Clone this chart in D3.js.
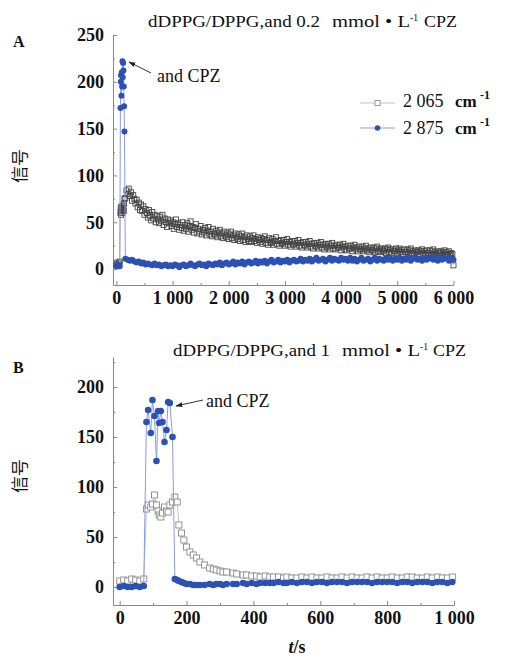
<!DOCTYPE html>
<html>
<head>
<meta charset="utf-8">
<script src="https://cdn.jsdelivr.net/npm/d3@7"></script>
<style>
  body { margin: 0; background: #fff; }
  svg { display: block; }
  text { font-family: "Liberation Serif", "Times New Roman", serif; fill: #111; }
</style>
</head>
<body>
<svg id="chart" width="505" height="658"></svg>
<script>
// ---- Panel A: 0.2 mmol/L CPZ (t up to 6000 s) ----
// early samples (pre-injection + spike), shared by both bands
const earlyTimesA = [0, 15, 30, 45, 60, 72, 78, 84, 90, 96, 102, 108, 114, 120, 126, 132, 138, 144];
const earlyGrayA = [5, 7, 4, 6, 8, 60, 66, 58, 64, 62, 67, 60, 65, 63, 68, 62, 70, 75];
const earlyBlueA = [3, 4, 3, 4, 3, 172, 200, 207, 185, 210, 195, 222, 205, 220, 212, 195, 174, 147];

// 2065 band after the spike, every 20 s from 160 s
const tailStartA = 160, grayStepA = 20, blueStepA = 40;
const tailGrayA = [
  76, 84, 80, 86, 78, 82, 73, 79, 75, 70,
  74, 66, 71, 63, 69, 62, 67, 58, 64, 60,
  55, 63, 57, 52, 61, 54, 58, 50, 57, 53,
  49, 56, 51, 58, 47, 54, 50, 45, 53, 49,
  52, 46, 50, 43, 48, 53, 45, 49, 42, 47,
  44, 50, 41, 47, 43, 49, 40, 46, 51, 42,
  45, 39, 44, 48, 38, 43, 40, 46, 37, 42,
  39, 44, 36, 41, 45, 37, 40, 35, 43, 38,
  36, 41, 34, 39, 42, 35, 38, 33, 40, 36,
  34, 39, 32, 37, 40, 33, 36, 31, 38, 34,
  32, 37, 30, 35, 38, 31, 34, 29, 36, 32,
  30, 35, 29, 33, 36, 30, 32, 28, 34, 31,
  29, 33, 27, 32, 35, 28, 31, 26, 33, 29,
  28, 32, 26, 30, 34, 27, 30, 25, 31, 28,
  27, 31, 25, 29, 32, 26, 29, 24, 30, 27,
  26, 30, 24, 28, 31, 25, 28, 23, 29, 26,
  25, 29, 23, 27, 30, 24, 27, 22, 28, 25,
  24, 28, 22, 26, 29, 23, 26, 21, 27, 24,
  23, 27, 21, 25, 28, 22, 25, 21, 26, 23,
  23, 26, 20, 24, 27, 21, 24, 20, 25, 22,
  22, 25, 19, 23, 26, 21, 23, 19, 24, 21,
  21, 24, 19, 22, 25, 20, 22, 18, 23, 20,
  20, 23, 18, 22, 24, 19, 21, 18, 22, 20,
  19, 22, 17, 21, 23, 18, 21, 17, 21, 19,
  19, 22, 17, 20, 22, 18, 20, 16, 21, 18,
  18, 21, 16, 20, 22, 17, 19, 16, 20, 18,
  18, 20, 16, 19, 21, 17, 19, 15, 20, 17,
  17, 20, 15, 19, 21, 16, 18, 15, 19, 17,
  17, 19, 15, 18, 20, 16, 18, 15, 19, 16,
  17, 16, 4
];
// 2875 band after the spike, every 40 s from 160 s
const tailBlueA = [
  11, 10, 9, 10, 8, 7, 8, 6, 7, 5, 6, 5, 4, 6, 4, 5, 3, 4, 5, 3, 4,
  3, 5, 4, 2, 4, 5, 3, 4, 6, 4, 3, 5, 6, 4, 5, 3, 6, 5, 4, 6,
  5, 7, 4, 6, 7, 5, 6, 8, 5, 7, 6, 8, 5, 7, 8, 6, 7, 9, 6, 8,
  7, 9, 6, 8, 10, 7, 8, 10, 7, 9, 8, 10, 7, 9, 10, 8, 9, 11, 8, 10,
  9, 11, 8, 10, 12, 9, 10, 11, 8, 10, 12, 9, 11, 10, 9, 12, 10, 11, 9, 12,
  9, 11, 8, 10, 12, 9, 10, 11, 8, 10, 12, 9, 11, 10, 9, 12, 10, 11, 9, 11,
  10, 12, 9, 11, 10, 12, 9, 11, 13, 10, 11, 9, 12, 10, 11, 13, 10, 12, 9, 11, 10, 12, 11, 9, 12, 10
];

// ---- Panel B: 1 mmol/L CPZ (t up to 1000 s) ----
const timesB = [
  0, 12, 24, 36, 48, 60, 72,
  80, 85, 93, 98, 104, 110, 115, 118, 123, 128, 134, 140, 145, 150, 158,
  165, 172, 177, 185, 192, 200, 210, 220, 230, 240, 254, 269, 280, 289, 300, 309, 320, 339,
  350, 369, 380, 395, 409, 420, 435, 449, 460, 475, 490, 500, 515, 530, 545, 560, 575, 590,
  605, 620, 635, 650, 665, 680, 695, 710, 725, 740, 755, 770, 785, 800, 815, 830, 845, 860,
  875, 890, 905, 920, 935, 950, 965, 980, 995
];
const grayB = [
  6, 7, 6, 8, 7, 6, 8,
  78, 82, 80, 83, 92, 82, 76, 72, 70, 74, 80, 76, 75, 82, 85,
  90, 85, 62, 54, 47, 40, 35, 32, 29, 25, 22, 19, 18, 17, 16, 15, 15, 14,
  13, 12, 12, 11, 11, 10, 11, 10, 10, 10, 9, 10, 9, 9, 10, 9, 10, 9,
  9, 10, 9, 9, 10, 9, 10, 9, 9, 10, 9, 10, 9, 9, 10, 9, 9, 10,
  10, 9, 9, 10, 9, 10, 9, 9, 10
];
const blueB = [
  0, 1, 0, 0, 1, 0, 1,
  165, 177, 154, 187, 171, 126, 176, 164, 176, 165, 145, 157, 185, 184, 150,
  8, 7, 6, 5, 4, 3, 3, 2, 2, 2, 2, 3, 2, 3, 3, 2, 3, 3,
  3, 4, 3, 4, 3, 4, 4, 4, 4, 5, 4, 4, 5, 4, 5, 5, 4, 5,
  5, 4, 5, 5, 5, 4, 5, 5, 5, 5, 4, 5, 5, 5, 5, 4, 5, 5,
  4, 5, 5, 5, 4, 5, 5, 4, 5
];

const ticksA = [0, 1000, 2000, 3000, 4000, 5000, 6000];
const ticksB = [0, 200, 400, 600, 800, 1000];
const yTicksA = [0, 50, 100, 150, 200, 250];
const yTicksB = [0, 50, 100, 150, 200];
const legendLabels = ["2 065", "2 875"];

const BLUE = "#2d50b4";
const BLUE_LINE = "#8d9be0";
const GRAY_LINE = "#c4c4c4";

const svg = d3.select("#chart");
const fmt = d3.formatLocale({ decimal: ".", thousands: " ", grouping: [3], currency: ["", ""] }).format(",");

svg.append("defs").append("marker")
  .attr("id", "arrow")
  .attr("viewBox", "0 0 10 10")
  .attr("refX", 9).attr("refY", 5)
  .attr("markerWidth", 7).attr("markerHeight", 7)
  .attr("orient", "auto")
  .append("path").attr("d", "M0,1.5 L10,5 L0,8.5 Z").attr("fill", "#222");

function buildSeries(times, values) {
  return times.map((t, i) => ({ t: t, v: values[i] }));
}

const grayTimesA = d3.range(tailGrayA.length).map(i => tailStartA + i * grayStepA);
const blueTimesA = d3.range(tailBlueA.length).map(i => tailStartA + i * blueStepA);
const grayA = buildSeries(earlyTimesA.concat(grayTimesA), earlyGrayA.concat(tailGrayA));
const blueA = buildSeries(earlyTimesA.concat(blueTimesA), earlyBlueA.concat(tailBlueA));

function drawPanel(p) {
  const x = d3.scaleLinear().domain(p.xDomain).range(p.xRange);
  const y = d3.scaleLinear().domain(p.yDomain).range(p.yRange);
  const g = svg.append("g");

  // minor ticks
  g.append("g")
    .attr("transform", `translate(0,${p.yRange[0]})`)
    .call(d3.axisBottom(x).tickValues(p.xMinor).tickSize(-2).tickFormat(""))
    .call(s => s.select(".domain").remove());
  g.append("g")
    .attr("transform", `translate(${p.xRange[0]},0)`)
    .call(d3.axisLeft(y).tickValues(p.yMinor).tickSize(-2).tickFormat(""))
    .call(s => s.select(".domain").remove());

  const xAxis = g.append("g")
    .attr("transform", `translate(0,${p.yRange[0]})`)
    .call(d3.axisBottom(x).tickValues(p.xTicks).tickSizeInner(-4).tickSizeOuter(0)
      .tickPadding(8).tickFormat(fmt));
  const yAxis = g.append("g")
    .attr("transform", `translate(${p.xRange[0]},0)`)
    .call(d3.axisLeft(y).tickValues(p.yTicks).tickSizeInner(-4).tickSizeOuter(0)
      .tickPadding(9));

  [xAxis, yAxis].forEach(a => {
    a.select(".domain").attr("stroke", "#888");
    a.selectAll("text")
      .attr("font-family", '"Liberation Serif", serif')
      .attr("font-size", 18).attr("font-weight", "bold").attr("fill", "#111");
  });
  g.selectAll(".tick line").attr("stroke", "#888");
  xAxis.selectAll("text").attr("dy", "0.6em");

  const line = d3.line().x(d => x(d.t)).y(d => y(d.v));

  // 2065 cm-1, open squares
  g.append("path").datum(p.gray).attr("d", line)
    .attr("fill", "none").attr("stroke", GRAY_LINE).attr("stroke-width", 1);
  g.append("g").selectAll("rect").data(p.gray).join("rect")
    .attr("x", d => x(d.t) - p.sq / 2).attr("y", d => y(d.v) - p.sq / 2)
    .attr("width", p.sq).attr("height", p.sq)
    .attr("fill", p.sqFill).attr("stroke", p.sqStroke).attr("stroke-width", 0.9);

  // 2875 cm-1, filled circles
  g.append("path").datum(p.blue).attr("d", line)
    .attr("fill", "none").attr("stroke", BLUE_LINE).attr("stroke-width", 1);
  g.append("g").selectAll("circle").data(p.blue).join("circle")
    .attr("cx", d => x(d.t)).attr("cy", d => y(d.v)).attr("r", p.r)
    .attr("fill", BLUE);

  return { x, y };
}

drawPanel({
  xDomain: [-60, 6000], xRange: [113, 453.5],
  yDomain: [-17, 250], yRange: [285, 35],
  xTicks: ticksA, xMinor: d3.range(500, 6000, 1000),
  yTicks: yTicksA, yMinor: d3.range(25, 250, 50),
  gray: grayA, blue: blueA,
  sq: 5, sqFill: "none", sqStroke: "#444", r: 3
});

drawPanel({
  xDomain: [-20, 1000], xRange: [113, 454],
  yDomain: [-18, 230], yRange: [605, 357],
  xTicks: ticksB, xMinor: d3.range(100, 1000, 200),
  yTicks: yTicksB, yMinor: d3.range(25, 230, 50),
  gray: buildSeries(timesB, grayB), blue: buildSeries(timesB, blueB),
  sq: 6, sqFill: "#fff", sqStroke: "#8a8a8a", r: 3.3
});

// titles
function title(parts, baseline) {
  parts.forEach(pt => {
    svg.append("text")
      .attr("x", pt.x).attr("y", baseline - (pt.sup ? 6 : 0))
      .attr("font-size", pt.sup ? 11 : 16)
      .attr("textLength", pt.w).attr("lengthAdjust", "spacingAndGlyphs")
      .text(pt.text);
  });
}
title([
  { text: "dDPPG/DPPG,and 0.2", x: 148, w: 172 },
  { text: "mmol • L", x: 332, w: 78 },
  { text: "-1", x: 410, w: 8, sup: true },
  { text: "CPZ", x: 424, w: 33 }
], 27);
title([
  { text: "dDPPG/DPPG,and 1", x: 173, w: 157 },
  { text: "mmol • L", x: 342, w: 78 },
  { text: "-1", x: 420, w: 8, sup: true },
  { text: "CPZ", x: 433, w: 33 }
], 356);

// panel letters
svg.append("text").attr("x", 13).attr("y", 47).attr("font-size", 16).attr("font-weight", "bold").text("A");
svg.append("text").attr("x", 13).attr("y", 373).attr("font-size", 16).attr("font-weight", "bold").text("B");

// y labels
[166, 476].forEach(cy => {
  svg.append("text")
    .attr("transform", `translate(26,${cy}) rotate(-90)`)
    .attr("text-anchor", "middle")
    .attr("font-size", 17)
    .style("font-family", '"Noto Sans CJK SC", sans-serif')
    .text("信号");
});

// x label
const xl = svg.append("text").attr("x", 297).attr("y", 653).attr("text-anchor", "middle")
  .attr("font-size", 18).attr("font-weight", "bold");
xl.append("tspan").attr("font-style", "italic").text("t");
xl.append("tspan").text("/s");

// legend
const legend = svg.append("g");
[
  { y: 103, base: 107, label: legendLabels[0], kind: "sq" },
  { y: 128, base: 134, label: legendLabels[1], kind: "dot" }
].forEach(row => {
  legend.append("line").attr("x1", 360).attr("x2", 395).attr("y1", row.y).attr("y2", row.y)
    .attr("stroke", row.kind === "sq" ? GRAY_LINE : BLUE_LINE).attr("stroke-width", 1.2);
  if (row.kind === "sq") {
    legend.append("rect").attr("x", 375).attr("y", row.y - 2.5).attr("width", 5).attr("height", 5)
      .attr("fill", "#fff").attr("stroke", "#999");
  } else {
    legend.append("circle").attr("cx", 377.5).attr("cy", row.y).attr("r", 2.8).attr("fill", BLUE);
  }
  legend.append("text").attr("x", 403).attr("y", row.base).attr("font-size", 18).text(row.label);
  legend.append("text").attr("x", 455).attr("y", row.base).attr("font-size", 17).attr("font-weight", "bold").text("cm");
  legend.append("text").attr("x", 480).attr("y", row.base - 8).attr("font-size", 12).attr("font-weight", "bold").text("-1");
});

// annotations
function note(tx, ty, x1, y1, x2, y2) {
  svg.append("line").attr("x1", x1).attr("y1", y1).attr("x2", x2).attr("y2", y2)
    .attr("stroke", "#333").attr("stroke-width", 1).attr("marker-end", "url(#arrow)");
  svg.append("text").attr("x", tx).attr("y", ty).attr("font-size", 18).text("and CPZ");
}
note(157, 82, 151, 73, 129, 62);
note(206, 407, 203, 400, 176, 406);
</script>
</body>
</html>
